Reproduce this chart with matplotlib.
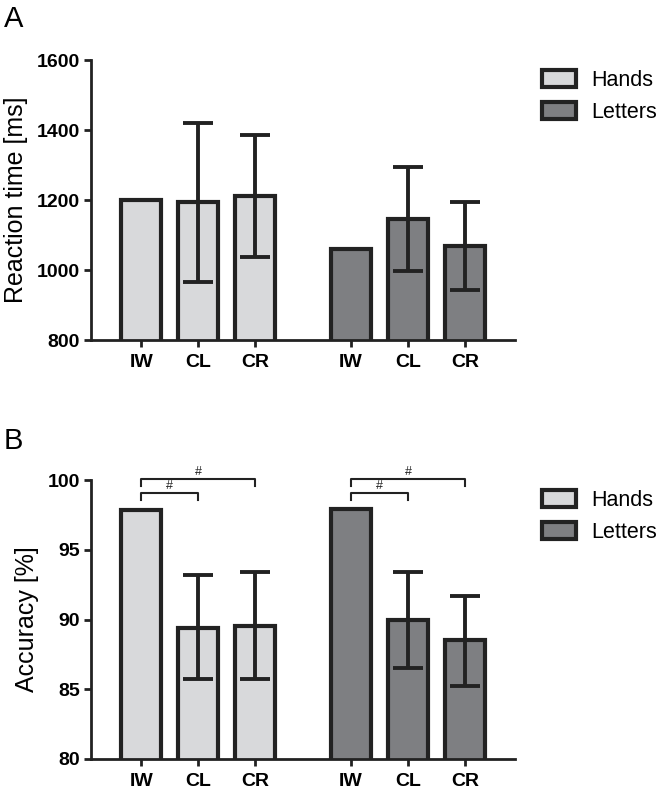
import matplotlib
matplotlib.use('Agg')
import matplotlib.pyplot as plt
from matplotlib.patches import Patch

plt.rcParams['font.family'] = ['Liberation Sans', 'DejaVu Sans']

# Data
conditions = ["IW", "CL", "CR"]
groups = ["Hands", "Letters"]

rt_mean = {"Hands": [1200, 1195, 1211], "Letters": [1060, 1146, 1069]}
rt_lo = {"Hands": [None, 966, 1037], "Letters": [None, 997, 943]}
rt_hi = {"Hands": [None, 1421, 1385], "Letters": [None, 1294, 1194]}

acc_mean = {"Hands": [97.85, 89.4, 89.5], "Letters": [97.9, 90.0, 88.5]}
acc_lo = {"Hands": [None, 85.7, 85.7], "Letters": [None, 86.5, 85.2]}
acc_hi = {"Hands": [None, 93.2, 93.4], "Letters": [None, 93.4, 91.7]}

# significance brackets (pairs of condition index), label
sig_pairs = [(0, 1), (0, 2)]
sig_label = "#"

colors = {"Hands": "#d8d9db", "Letters": "#7e7f82"}
edge = "#222222"
group_step = 3.68   # distance between first bars of the two groups
margin = 0.88

fig = plt.figure(figsize=(6.64, 7.97), dpi=100, facecolor='white')
axA = fig.add_axes([0.137, 0.5734, 0.639, 0.3513])
axB = fig.add_axes([0.137, 0.0477, 0.639, 0.3500])


def positions(gi):
    return [gi * group_step + i for i in range(len(conditions))]


def draw_panel(ax, means, lo, hi, ylim, yticks, ylabel):
    ticks, labels = [], []
    for gi, g in enumerate(groups):
        xs = positions(gi)
        ax.bar(xs, means[g], width=0.7, color=colors[g], edgecolor=edge,
               linewidth=3, zorder=2)
        for x, m, l, h in zip(xs, means[g], lo[g], hi[g]):
            if l is None:
                continue
            ax.errorbar([x], [m], yerr=[[m - l], [h - m]], fmt='none',
                        ecolor=edge, elinewidth=2.8, capsize=11,
                        capthick=2.8, zorder=3)
        ticks += xs
        labels += conditions
    ax.set_xticks(ticks)
    ax.set_xticklabels(labels, fontsize=14, fontweight='bold')
    ax.set_xlim(-margin, positions(len(groups) - 1)[-1] + margin)
    ax.set_ylim(*ylim)
    ax.set_yticks(yticks)
    ax.set_yticklabels([str(t) for t in yticks], fontsize=14, fontweight='bold')
    ax.set_ylabel(ylabel, fontsize=18, labelpad=6)
    for s in ['top', 'right']:
        ax.spines[s].set_visible(False)
    for s in ['left', 'bottom']:
        ax.spines[s].set_linewidth(2)
        ax.spines[s].set_color(edge)
    ax.tick_params(axis='both', width=2, length=5, color=edge, pad=3)
    ax.tick_params(axis='x', pad=5)
    ax.legend(handles=[Patch(facecolor=colors[g], edgecolor=edge, linewidth=3,
                             label=g) for g in groups],
              loc='upper left', bbox_to_anchor=(1.064, 0.965), frameon=False,
              fontsize=15.5, handlelength=1.58, handleheight=0.84,
              handletextpad=0.7, labelspacing=0.52, borderaxespad=0,
              borderpad=0)


draw_panel(axA, rt_mean, rt_lo, rt_hi, (800, 1600),
           [800, 1000, 1200, 1400, 1600], "Reaction time [ms]")
draw_panel(axB, acc_mean, acc_lo, acc_hi, (80, 100),
           [80, 85, 90, 95, 100], "Accuracy [%]")

# brackets in panel B
levels = [99.05, 100.1]
drop = 0.5
for gi in range(len(groups)):
    xs = positions(gi)
    for (a, b), yl in zip(sig_pairs, levels):
        x1, x2 = xs[a], xs[b]
        axB.plot([x1, x1, x2, x2], [yl - drop, yl, yl, yl - drop],
                 color=edge, linewidth=1.5, clip_on=False, zorder=4)
        axB.text((x1 + x2) / 2, yl + 0.08, sig_label, ha='center',
                 va='bottom', fontsize=9, color=edge, clip_on=False)

fig.text(0.006, 0.994, "A", fontsize=21, ha='left', va='top')
fig.text(0.006, 0.4642, "B", fontsize=21, ha='left', va='top')

fig.savefig("out.png", dpi=100, facecolor='white')
